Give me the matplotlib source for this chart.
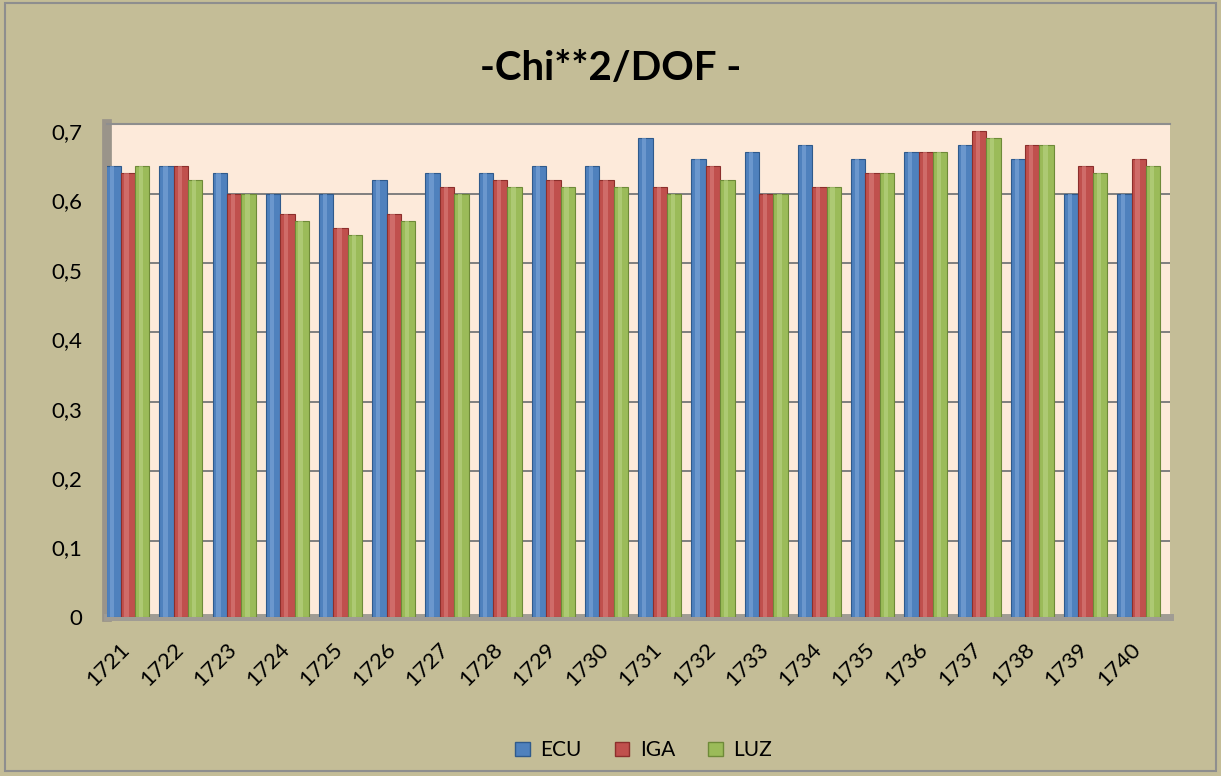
import numpy as np
import matplotlib
matplotlib.use('Agg')
from matplotlib import pyplot as plt
from matplotlib.patches import Rectangle, Patch
from matplotlib.transforms import ScaledTranslation

years = ['1721', '1722', '1723', '1724', '1725', '1726', '1727', '1728', '1729', '1730',
         '1731', '1732', '1733', '1734', '1735', '1736', '1737', '1738', '1739', '1740']
ecu = [0.65, 0.65, 0.64, 0.61, 0.61, 0.63, 0.64, 0.64, 0.65, 0.65,
       0.69, 0.66, 0.67, 0.68, 0.66, 0.67, 0.68, 0.66, 0.61, 0.61]
iga = [0.64, 0.65, 0.61, 0.58, 0.56, 0.58, 0.62, 0.63, 0.63, 0.63,
       0.62, 0.65, 0.61, 0.62, 0.64, 0.67, 0.70, 0.68, 0.65, 0.66]
luz = [0.65, 0.63, 0.61, 0.57, 0.55, 0.57, 0.61, 0.62, 0.62, 0.62,
       0.61, 0.63, 0.61, 0.62, 0.64, 0.67, 0.69, 0.68, 0.64, 0.65]
series = ['ECU', 'IGA', 'LUZ']
colors = ['#4F81BD', '#C0504D', '#9BBB59']
edges = ['#2F5A8C', '#8C2F2C', '#6E8A38']
lights = ['#7FA6D8', '#DA7F7C', '#BAD486']

plt.rcParams['font.family'] = ['Lato', 'DejaVu Sans']

fig = plt.figure(figsize=(12.21, 7.76), dpi=100, facecolor='#C4BD97')
# outer frame
fig.patches.append(Rectangle((0.004, 0.006), 0.992, 0.99, transform=fig.transFigure,
                             fill=False, edgecolor='#8E8E8E', linewidth=1.5))

ax = fig.add_axes([0.0876, 0.205, 0.8707, 0.635])
ax.set_facecolor('#FDEADA')

x = np.arange(len(years))
w = 0.27
for i, (vals, c, ec, lc) in enumerate(zip([ecu, iga, luz], colors, edges, lights)):
    pos = x + (i - 1) * w
    ax.bar(pos, vals, width=w, color=c, edgecolor=ec, linewidth=0.8, zorder=3)
    # highlight strip to mimic the cylinder shading
    ax.bar(pos - w * 0.08, vals, width=w * 0.3, color=lc, linewidth=0, alpha=0.6, zorder=4)

ax.set_xlim(-0.39, 19.59)
ax.set_ylim(0, 0.71)
yt = np.arange(0, 0.71, 0.1)
ax.set_yticks(yt)
ax.set_yticklabels(['0' if v == 0 else ('%.1f' % v).replace('.', ',') for v in yt], fontsize=16)
ax.set_xticks(x)
ax.set_xticklabels(years, rotation=45, ha='right', rotation_mode='anchor', fontsize=16)
ax.tick_params(axis='x', length=0, pad=16)
ax.tick_params(axis='y', length=0, pad=18)
for lab in ax.get_xticklabels():
    lab.set_transform(lab.get_transform() + ScaledTranslation(-0.08, 0, fig.dpi_scale_trans))
# back-wall gridlines sit a little above the label positions (3D look)
for v in yt[1:-1]:
    ax.axhline(v + 0.01, color='#7F7F7F', linewidth=1.4, zorder=1)
ax.spines['right'].set_visible(False)
ax.spines['top'].set_color('#8E8E8E')
ax.spines['top'].set_linewidth(1.5)
ax.spines['left'].set_color('#9A948A')
ax.spines['left'].set_linewidth(7)
ax.spines['bottom'].set_color('#A09C94')
ax.spines['bottom'].set_linewidth(5)

fig.text(0.5, 0.912, '-Chi**2/DOF -', ha='center', va='center', fontsize=29, fontweight='bold')

handles = [Patch(facecolor=c, edgecolor=ec) for c, ec in zip(colors, edges)]
fig.legend(handles, series, loc='center', bbox_to_anchor=(0.527, 0.033), ncol=3, frameon=False,
           fontsize=15, handlelength=0.7, handleheight=0.7, columnspacing=1.6, handletextpad=0.5)

fig.savefig('out.png', dpi=100, facecolor=fig.get_facecolor())
